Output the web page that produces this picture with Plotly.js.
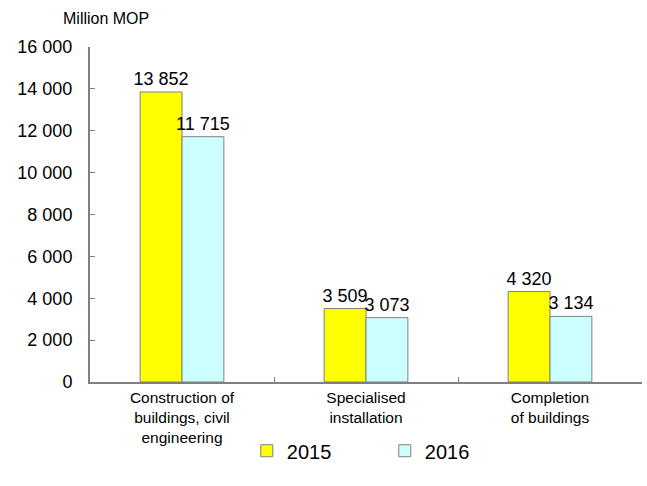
<!DOCTYPE html>
<html>
<head>
<meta charset="utf-8">
<script src="https://cdn.plot.ly/plotly-3.0.1.min.js"></script>
<style>html,body{margin:0;padding:0;background:#fff;}#chart{width:647px;height:486px;}</style>
</head>
<body>
<div id="chart"></div>
<script>
const categories = ["Construction of<br>buildings, civil<br>engineering", "Specialised<br>installation", "Completion<br>of buildings"];
const values2015 = [13852, 3509, 4320];
const values2016 = [11715, 3073, 3134];
const seriesNames = ["2015", "2016"];
const yTicks = [0, 2000, 4000, 6000, 8000, 10000, 12000, 14000, 16000];

const font = "Arial, 'Liberation Sans', sans-serif";
const mk = (name, y, color) => ({
  type: 'bar', name: name, x: categories, y: y,
  marker: {color: color, line: {color: '#808080', width: 1}},
  texttemplate: '%{y:,}', textposition: 'outside', cliponaxis: false, constraintext: 'none',
  textfont: {family: font, size: 18, color: '#000'}
});
const data = [mk(seriesNames[0], values2015, '#FFFF00'), mk(seriesNames[1], values2016, '#CCFFFF')];
const layout = {
  width: 647, height: 486,
  margin: {l: 90, r: 5, t: 47, b: 104, autoexpand: false},
  paper_bgcolor: '#fff', plot_bgcolor: '#fff',
  separators: '. ',
  barmode: 'group', bargap: 0.545, bargroupgap: 0,
  font: {family: font, color: '#000'},
  showlegend: true,
  legend: {orientation: 'h', x: 0.284, xanchor: 'left', y: -0.147, yanchor: 'top',
           font: {family: font, size: 20}, entrywidth: 93, traceorder: 'normal'},
  xaxis: {showline: true, linecolor: '#808080', linewidth: 2, tickson: 'boundaries',
          ticks: 'inside', ticklen: 5, tickcolor: '#808080', showgrid: false,
          tickfont: {family: font, size: 15.5}, automargin: false},
  yaxis: {range: [0, 16000], tickvals: yTicks, tickformat: ',', showline: true,
          linecolor: '#808080', linewidth: 2, ticks: 'inside', ticklen: 5, tickcolor: '#808080',
          showgrid: false, zeroline: false, tickfont: {family: font, size: 18}, ticklabelstandoff: 12, automargin: false},
  annotations: [{text: 'Million MOP', xref: 'paper', yref: 'paper', x: -0.053, y: 1.055,
                 xanchor: 'left', yanchor: 'bottom', showarrow: false, font: {family: font, size: 16}}]
};
Plotly.newPlot('chart', data, layout, {displayModeBar: false});
</script>
</body>
</html>
